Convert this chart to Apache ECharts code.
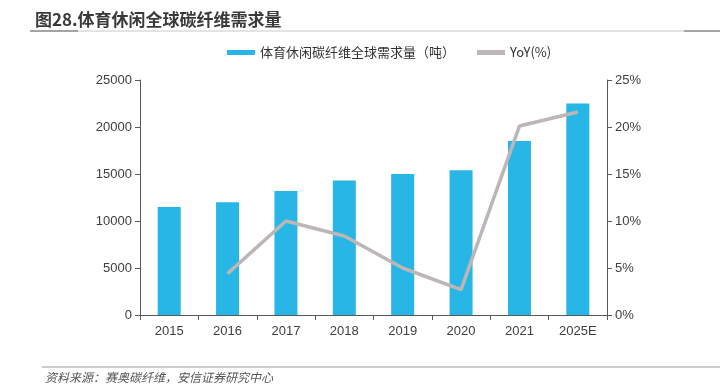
<!DOCTYPE html>
<html><head><meta charset="utf-8">
<script src="https://cdn.jsdelivr.net/npm/echarts@6/dist/echarts.min.js"></script>
<style>html,body{margin:0;padding:0;background:#fff}#c{width:720px;height:387px}</style>
</head><body><div id="c"></div>
<script>
const categories = ['2015','2016','2017','2018','2019','2020','2021','2025E'];
const demand = [11500, 12000, 13200, 14300, 15000, 15400, 18500, 22500];
const yoy = [null, 4.4, 10.0, 8.4, 5.0, 2.7, 20.1, 21.6];
const leftTicks = [0, 5000, 10000, 15000, 20000, 25000];
const rightTicks = [0, 5, 10, 15, 20, 25];

const chart = echarts.init(document.getElementById('c'));
const axisCol = '#595959';
chart.setOption({
  animation: false,
  title: {
    text: '图28.体育休闲全球碳纤维需求量',
    left: 30, top: 6,
    textStyle: {fontFamily: 'Noto Sans CJK SC', fontSize: 17, fontWeight: 'bold', color: '#3a3a3a'}
  },
  graphic: [
    {type: 'line', shape: {x1: 30, y1: 31, x2: 720, y2: 31}, style: {stroke: '#c8c8c8', lineWidth: 1}},
    {type: 'line', shape: {x1: 30, y1: 31, x2: 78, y2: 31}, style: {stroke: '#666', lineWidth: 1.2}},
    {type: 'line', shape: {x1: 684, y1: 31, x2: 720, y2: 31}, style: {stroke: '#666', lineWidth: 1.2}},
    {type: 'line', shape: {x1: 42, y1: 367, x2: 720, y2: 367}, style: {stroke: '#999', lineWidth: 1}},
    {type: 'text', left: 45, top: 371, style: {text: '资料来源：赛奥碳纤维，安信证券研究中心', font: 'italic 12px "Noto Sans CJK SC"', fill: '#555'}}
  ],
  legend: {
    top: 41, left: 222,
    itemGap: 22,
    itemWidth: 28, itemHeight: 5,
    textStyle: {fontFamily: 'Noto Sans CJK SC', fontSize: 13, color: '#333'},
    data: [
      {name: '体育休闲碳纤维全球需求量（吨）', icon: 'rect'},
      {name: 'YoY(%)', icon: 'rect'}
    ]
  },
  grid: {left: 140, right: 113, top: 80, bottom: 72},
  xAxis: {
    type: 'category', data: categories,
    axisLine: {lineStyle: {color: axisCol}},
    axisTick: {show: true, alignWithLabel: false, lineStyle: {color: axisCol}},
    axisLabel: {color: '#404040', fontSize: 13, fontFamily: 'Liberation Sans', margin: 10}
  },
  yAxis: [
    {type: 'value', min: 0, max: 25000, interval: 5000,
     axisLine: {show: true, lineStyle: {color: axisCol}},
     axisTick: {show: true, lineStyle: {color: axisCol}},
     splitLine: {show: false},
     axisLabel: {color: '#404040', fontSize: 13, fontFamily: 'Liberation Sans', margin: 8,
                 formatter: v => String(v)}},
    {type: 'value', min: 0, max: 25, interval: 5,
     axisLine: {show: true, lineStyle: {color: axisCol}},
     axisTick: {show: true, lineStyle: {color: axisCol}},
     splitLine: {show: false},
     axisLabel: {color: '#404040', fontSize: 13, fontFamily: 'Liberation Sans', margin: 8, formatter: '{value}%'}}
  ],
  series: [
    {name: '体育休闲碳纤维全球需求量（吨）', type: 'bar', data: demand, barWidth: 23,
     itemStyle: {color: '#27B6E6'}},
    {name: 'YoY(%)', type: 'line', yAxisIndex: 1, data: yoy, symbol: 'none',
     lineStyle: {color: '#BDB6B6', width: 3.5}, itemStyle: {color: '#BDB6B6'}}
  ]
});
</script></body></html>
